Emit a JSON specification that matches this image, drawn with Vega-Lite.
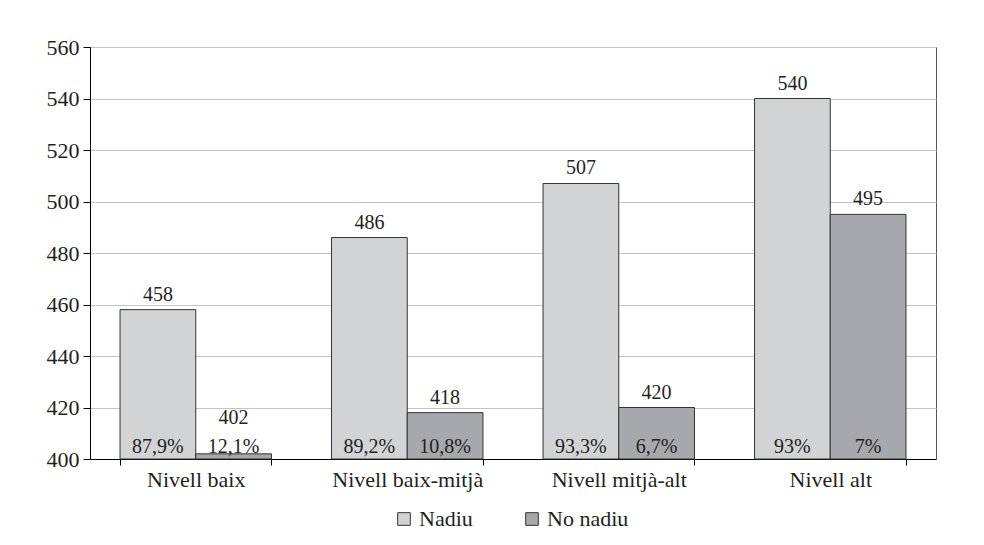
{
  "$schema": "https://vega.github.io/schema/vega-lite/v6.json",
  "width": 846,
  "height": 412,
  "autosize": {"type": "none"},
  "padding": {"left": 90, "top": 47, "right": 48, "bottom": 86},
  "background": "white",
  "data": {
    "values": [
      {"nivell": "Nivell baix", "grup": "Nadiu", "valor": 458, "pct": "87,9%"},
      {"nivell": "Nivell baix", "grup": "No nadiu", "valor": 402, "pct": "12,1%"},
      {"nivell": "Nivell baix-mitjà", "grup": "Nadiu", "valor": 486, "pct": "89,2%"},
      {"nivell": "Nivell baix-mitjà", "grup": "No nadiu", "valor": 418, "pct": "10,8%"},
      {"nivell": "Nivell mitjà-alt", "grup": "Nadiu", "valor": 507, "pct": "93,3%"},
      {"nivell": "Nivell mitjà-alt", "grup": "No nadiu", "valor": 420, "pct": "6,7%"},
      {"nivell": "Nivell alt", "grup": "Nadiu", "valor": 540, "pct": "93%"},
      {"nivell": "Nivell alt", "grup": "No nadiu", "valor": 495, "pct": "7%"}
    ]
  },
  "encoding": {
    "x": {
      "field": "nivell",
      "type": "nominal",
      "sort": null,
      "scale": {"paddingInner": 0.284, "paddingOuter": 0.142},
      "axis": {
        "title": null,
        "labelAngle": 0,
        "tickBand": "extent",
        "tickSize": 6,
        "labelPadding": 4,
        "domainColor": "#000000",
        "tickColor": "#000000",
        "grid": false
      }
    },
    "xOffset": {"field": "grup", "type": "nominal", "sort": ["Nadiu", "No nadiu"]}
  },
  "layer": [
    {
      "mark": {"type": "bar", "stroke": "#333333", "strokeWidth": 1},
      "encoding": {
        "y": {
          "field": "valor",
          "type": "quantitative",
          "scale": {"domain": [400, 560], "nice": false, "zero": false},
          "axis": {
            "title": null,
            "values": [400, 420, 440, 460, 480, 500, 520, 540, 560],
            "tickSize": 7,
            "labelPadding": 4,
            "domainColor": "#000000",
            "tickColor": "#000000",
            "gridColor": "#c4c4c4"
          }
        },
        "y2": {"datum": 400},
        "color": {
          "field": "grup",
          "type": "nominal",
          "scale": {"domain": ["Nadiu", "No nadiu"], "range": ["#d2d3d5", "#a7a8ab"]},
          "legend": {
            "title": null,
            "orient": "none",
            "legendX": 303,
            "legendY": 461,
            "direction": "horizontal",
            "symbolType": "square",
            "symbolSize": 160,
            "symbolStrokeColor": "#333333",
            "symbolStrokeWidth": 1,
            "symbolOpacity": 1,
            "labelOffset": 4,
            "columnPadding": 48
          }
        }
      }
    },
    {
      "transform": [{"calculate": "max(datum.valor, 410)", "as": "etiqueta"}],
      "mark": {"type": "text", "baseline": "alphabetic", "dy": -9, "fontSize": 20, "color": "#231f20"},
      "encoding": {
        "y": {"field": "etiqueta", "type": "quantitative"},
        "text": {"field": "valor", "type": "quantitative"}
      }
    },
    {
      "mark": {"type": "text", "baseline": "alphabetic", "dy": -6, "fontSize": 20, "color": "#231f20"},
      "encoding": {
        "y": {"datum": 400},
        "text": {"field": "pct", "type": "nominal"}
      }
    }
  ],
  "config": {
    "font": "Liberation Serif",
    "view": {"stroke": "#555555", "strokeWidth": 1},
    "text": {"font": "Liberation Serif"},
    "axis": {"labelFont": "Liberation Serif", "labelFontSize": 22, "labelColor": "#231f20"},
    "legend": {"labelFont": "Liberation Serif", "labelFontSize": 22, "labelColor": "#231f20"}
  }
}
